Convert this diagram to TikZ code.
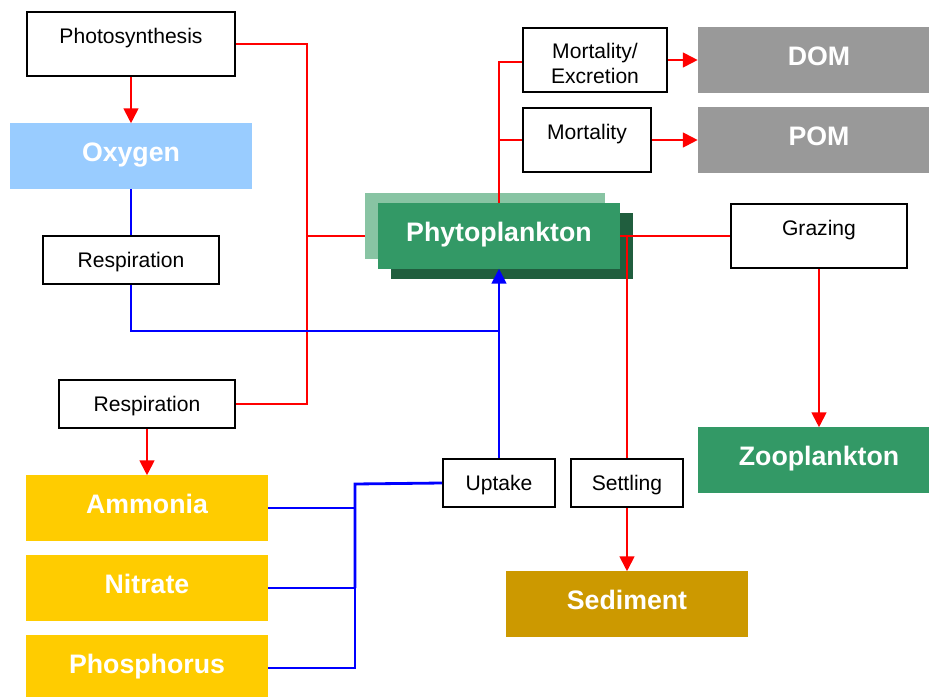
\documentclass[tikz,border=0pt]{standalone}
\usepackage{fontspec}
\setmainfont{Liberation Sans}
\usetikzlibrary{arrows.meta}

\definecolor{oxyblue}{HTML}{99CCFF}
\definecolor{nutyellow}{HTML}{FFCC00}
\definecolor{sedbrown}{HTML}{CC9900}
\definecolor{phygreen}{HTML}{339966}
\definecolor{phylight}{HTML}{88C4A3}
\definecolor{phydark}{HTML}{205E3E}
\definecolor{detgray}{HTML}{999999}

\begin{document}
\begin{tikzpicture}[x=0.025cm, y=-0.025cm,
        box/.style={rectangle, draw, line width=1.4pt, inner sep=0pt, text centered, align=center, font=\fontsize{15}{18}\selectfont},
        onerow/.style={text height=0.4cm, text depth=0.02cm},
        toptext/.style={text height=0.4cm, text depth=0.44cm},
        pool/.style={rectangle, inner sep=0pt, minimum width=6.05cm, minimum height=1.625cm, text height=0.5cm, text depth=0.245cm, text=white, font=\fontsize{19}{22}\selectfont\bfseries},
        redline/.style={draw=red, line width=1.4pt},
        blueline/.style={draw=blue, line width=1.4pt},
        flow/.style={-{Triangle[length=0.37cm, width=0.37cm]}},
    ]
        \useasboundingbox (0,0) rectangle (929,697);

        % Left column: oxygen and nutrients
        \node[box, toptext, minimum width=5.2cm, minimum height=1.6cm] (photo) at (131,44) {Photosynthesis};
        \node[pool, fill=oxyblue] (oxygen) at (131,156) {Oxygen};
        \node[box, onerow, minimum width=4.4cm, minimum height=1.2cm] (resp1) at (131,260) {Respiration};
        \node[box, onerow, minimum width=4.4cm, minimum height=1.2cm] (resp2) at (147,404) {Respiration};
        \node[pool, fill=nutyellow] (ammonia) at (147,508) {Ammonia};
        \node[pool, fill=nutyellow] (nitrate) at (147,588) {Nitrate};
        \node[pool, fill=nutyellow] (phos) at (147,668) {Phosphorus};

        % Phytoplankton (stacked)
        \node[pool, minimum width=6cm, fill=phylight] (phyback) at (485,226) {};
        \node[pool, minimum width=6.025cm, fill=phydark] (physhadow) at (512,246) {};
        \node[pool, minimum width=6.025cm, fill=phygreen] (phyto) at (499,236) {Phytoplankton};

        % Loss processes
        \node[box, minimum width=3.6cm, minimum height=1.6cm] (mortex) at (595,60) {\rule{0pt}{0.54cm}Mortality/\\Excretion};
        \node[box, toptext, minimum width=3.2cm, minimum height=1.6cm] (mort) at (587,140) {Mortality};
        \node[pool, fill=detgray] (dom) at (819,60) {DOM};
        \node[pool, fill=detgray] (pom) at (819,140) {POM};
        \node[box, toptext, minimum width=4.4cm, minimum height=1.6cm] (grazing) at (819,236) {Grazing};
        \node[pool, fill=phygreen] (zoo) at (819,460) {Zooplankton};
        \node[box, onerow, minimum width=2.8cm, minimum height=1.2cm] (uptake) at (499,483) {Uptake};
        \node[box, onerow, minimum width=2.8cm, minimum height=1.2cm] (settling) at (627,483) {Settling};
        \node[pool, fill=sedbrown] (sediment) at (627,604) {Sediment};

        \coordinate (rjoin) at (307,236);
        \coordinate (bend) at (499,331);
        \coordinate (split) at (355,484);
        \coordinate (mjoin) at (499,62);

        % red: production and losses
        \draw[redline, flow] (photo) -- (oxygen);
        \draw[redline] (photo.east) -| (rjoin) |- (resp2.east);
        \draw[redline] (rjoin) -- (phyback.west |- phyto.west);
        \draw[redline, flow] (resp2) -- (ammonia);
        \draw[redline] (phyto.north) -- (mjoin) -- (mortex.west |- mjoin);
        \draw[redline] (mjoin |- mort.west) -- (mort.west);
        \draw[redline, flow] (mortex) -- (dom);
        \draw[redline, flow] (mort) -- (pom);
        \draw[redline] (phyto.east) -- (grazing.west);
        \draw[redline, flow] (grazing.south) -- (grazing.south |- zoo.north);
        \draw[redline] (settling.north |- phyto.east) -- (settling.north);
        \draw[redline, flow] (settling) -- (settling.south |- sediment.north);

        % blue: uptake
        \draw[blueline] (oxygen) -- (resp1);
        \draw[blueline] (resp1.south) |- (bend);
        \draw[blueline, flow] (uptake.north) -- (phyto.south);
        \draw[blueline, line width=2pt] (uptake.west) -- (split) -- (split |- nitrate.east);
        \draw[blueline] (split |- nitrate.east) |- (phos.east);
        \draw[blueline] (split |- ammonia.east) -- (ammonia.east);
        \draw[blueline] (split |- nitrate.east) -- (nitrate.east);
    \end{tikzpicture}
\end{document}
